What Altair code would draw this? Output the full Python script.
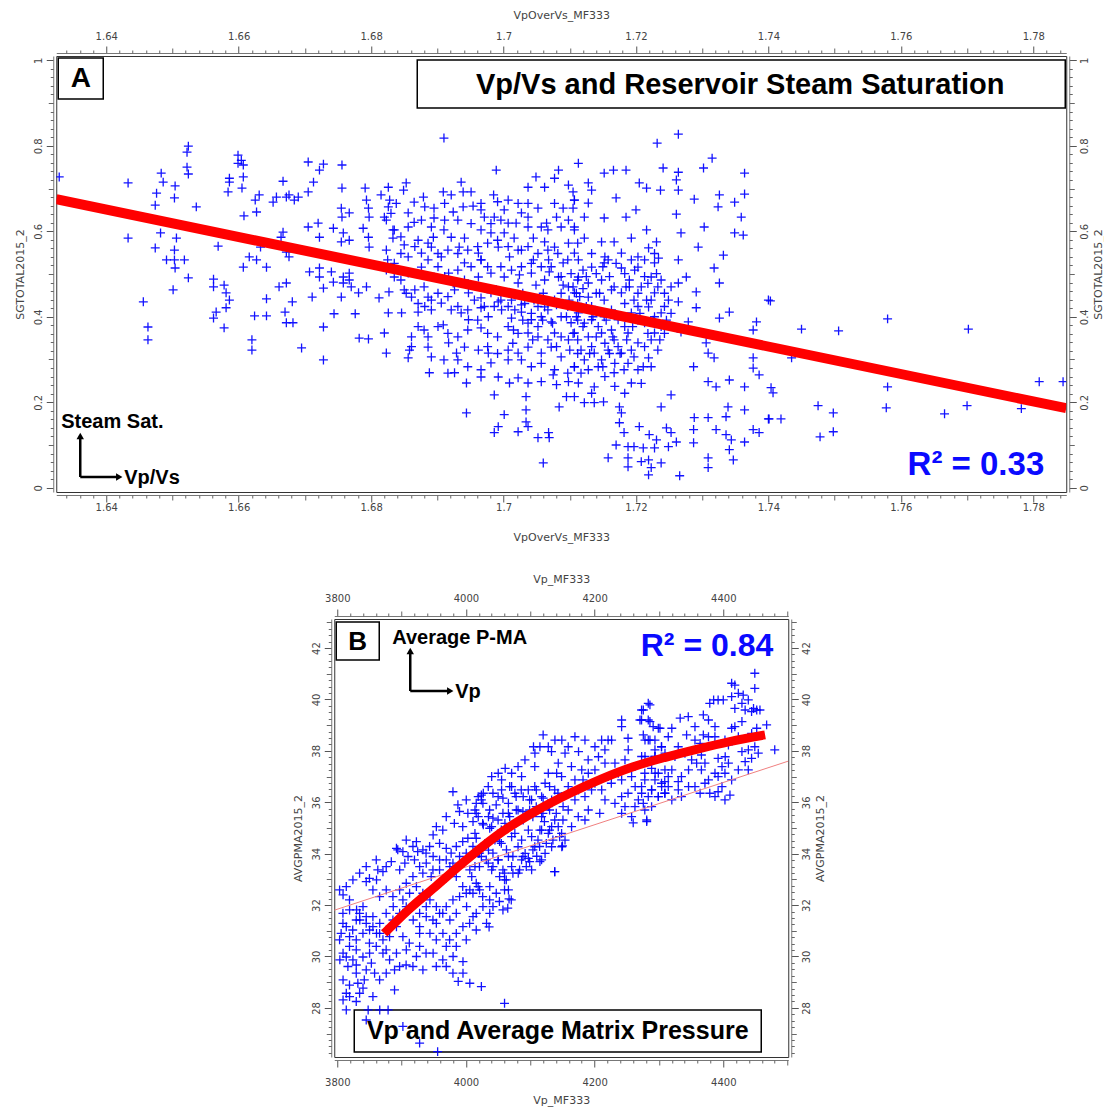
import altair as alt
import pandas as pd

# ---------------- Panel A : Vp/Vs vs steam saturation ----------------
A_LEFT = [
(1.6329,0.727),(1.6433,0.713),(1.6433,0.584),(1.6524,0.799),(1.6522,0.785),(1.6522,0.750),(1.6524,0.734),
(1.6483,0.736),(1.6486,0.715),(1.6504,0.706),(1.6476,0.689),(1.6503,0.678),(1.6474,0.661),(1.6536,0.657),
(1.6482,0.596),(1.6474,0.561),(1.6506,0.584),(1.6503,0.556),(1.6491,0.533),(1.6503,0.533),(1.6518,0.533),
(1.6504,0.514),(1.6524,0.491),(1.6501,0.463),(1.6456,0.435),(1.6463,0.376),(1.6463,0.346),(1.6599,0.778),
(1.6604,0.766),(1.6599,0.759),(1.6607,0.755),(1.6586,0.724),(1.6586,0.715),(1.6607,0.727),(1.6584,0.692),
(1.6605,0.701),(1.6608,0.636),(1.6627,0.645),(1.6625,0.673),(1.6631,0.685),(1.6652,0.668),(1.6657,0.680),
(1.6667,0.717),(1.6672,0.680),(1.6676,0.685),(1.6684,0.673),(1.6690,0.680),(1.6705,0.692),(1.6713,0.715),
(1.6705,0.762),(1.6722,0.743),(1.6728,0.757),(1.6756,0.755),(1.6756,0.701),(1.6791,0.701),(1.6755,0.654),
(1.6756,0.633),(1.6767,0.643),(1.6793,0.673),(1.6796,0.654),(1.6797,0.633),(1.6569,0.565),(1.6633,0.563),
(1.6667,0.598),(1.6664,0.586),(1.6672,0.551),(1.6676,0.540),(1.6705,0.610),(1.6720,0.619),(1.6722,0.586),
(1.6743,0.607),(1.6758,0.596),(1.6755,0.575),(1.6767,0.579),(1.6788,0.607),(1.6796,0.586),(1.6797,0.563),
(1.6616,0.540),(1.6627,0.533),(1.6607,0.516),(1.6642,0.516),(1.6707,0.505),(1.6722,0.514),(1.6722,0.493),
(1.6740,0.505),(1.6758,0.493),(1.6767,0.502),(1.6743,0.481),(1.6758,0.479),(1.6767,0.486),(1.6770,0.470),
(1.6781,0.456),(1.6793,0.470),(1.6562,0.488),(1.6562,0.470),(1.6578,0.474),(1.6581,0.456),(1.6586,0.439),
(1.6581,0.421),(1.6566,0.411),(1.6562,0.397),(1.6578,0.374),(1.6624,0.402),(1.6642,0.402),(1.6642,0.442),
(1.6661,0.470),(1.6672,0.479),(1.6681,0.435),(1.6670,0.411),(1.6672,0.386),(1.6682,0.386),(1.6711,0.446),
(1.6728,0.467),(1.6728,0.376),(1.6744,0.407),(1.6776,0.407),(1.6755,0.446),(1.6620,0.346),(1.6620,0.322),
(1.6695,0.327),(1.6728,0.299),(1.6782,0.350),(1.6796,0.348),(1.6812,0.444),
]
A_MID = [
(1.6910,0.818),(1.6989,0.743),(1.7113,0.759),(1.7083,0.743),(1.7049,0.727),(1.7037,0.703),(1.7062,0.703),
(1.7077,0.724),(1.7098,0.708),(1.7105,0.692),(1.6826,0.703),(1.6853,0.713),(1.6849,0.696),(1.6936,0.715),
(1.6909,0.692),(1.6921,0.685),(1.6939,0.692),(1.6951,0.692),(1.6985,0.685),(1.7007,0.673),(1.6879,0.680),
(1.6865,0.668),(1.6815,0.685),(1.6826,0.657),(1.6820,0.633),(1.6856,0.643),(1.6865,0.621),(1.6895,0.654),
(1.6895,0.631),(1.6924,0.645),(1.6939,0.657),(1.6954,0.659),(1.6966,0.650),(1.6971,0.633),(1.6986,0.633),
(1.7001,0.650),(1.7007,0.619),(1.7019,0.619),(1.7027,0.643),(1.7037,0.633),(1.7052,0.654),(1.7065,0.619),
(1.7080,0.633),(1.7090,0.654),(1.7105,0.654),(1.7057,0.610),(1.7098,0.626),(1.6833,0.603),(1.6833,0.584),
(1.6910,0.603),(1.6894,0.586),(1.6921,0.586),(1.6941,0.584),(1.6933,0.563),(1.6966,0.603),(1.6981,0.596),
(1.7001,0.596),(1.7016,0.584),(1.7045,0.584),(1.7062,0.575),(1.7077,0.563),(1.7098,0.572),(1.6850,0.568),
(1.6891,0.563),(1.6823,0.556),(1.6856,0.540),(1.6876,0.549),(1.6906,0.540),(1.6962,0.549),(1.6966,0.533),
(1.6992,0.563),(1.7009,0.540),(1.7027,0.556),(1.7045,0.533),(1.7068,0.533),(1.7090,0.526),(1.7107,0.549),
(1.6941,0.526),(1.6823,0.509),(1.6835,0.493),(1.6856,0.502),(1.6876,0.516),(1.6895,0.493),(1.6917,0.502),
(1.6924,0.479),(1.6941,0.486),(1.6962,0.493),(1.6981,0.502),(1.7001,0.493),(1.7022,0.479),(1.7042,0.502),
(1.7062,0.486),(1.7083,0.493),(1.7098,0.470),(1.6827,0.458),(1.6850,0.463),(1.6861,0.446),(1.6880,0.470),
(1.6886,0.446),(1.6906,0.432),(1.6926,0.463),(1.6947,0.456),(1.6966,0.444),(1.6981,0.456),(1.6992,0.435),
(1.7012,0.439),(1.7027,0.428),(1.7046,0.439),(1.7062,0.423),(1.7080,0.428),(1.7099,0.439),(1.6826,0.409),
(1.6820,0.362),(1.6846,0.409),(1.6871,0.411),(1.6891,0.416),(1.6909,0.381),(1.6921,0.416),(1.6936,0.409),
(1.6947,0.393),(1.6966,0.421),(1.6977,0.400),(1.6966,0.374),(1.6997,0.416),(1.7012,0.397),(1.7027,0.411),
(1.7042,0.393),(1.7057,0.400),(1.7072,0.388),(1.7087,0.400),(1.7102,0.386),(1.7015,0.369),(1.7037,0.362),
(1.7052,0.353),(1.7077,0.362),(1.7098,0.346),(1.6861,0.353),(1.6880,0.369),(1.6858,0.322),(1.6856,0.304),
(1.6886,0.329),(1.6891,0.306),(1.6917,0.339),(1.6929,0.315),(1.6910,0.299),(1.6941,0.329),(1.6962,0.322),
(1.6977,0.315),(1.6981,0.292),(1.7007,0.322),(1.7022,0.315),(1.7037,0.329),(1.7057,0.315),(1.7072,0.329),
(1.7087,0.306),(1.7107,0.283),(1.6888,0.269),(1.6926,0.269),(1.6944,0.245),(1.6966,0.259),(1.6992,0.259),
(1.7009,0.245),(1.7022,0.257),(1.7037,0.245),(1.7057,0.248),(1.7075,0.264),(1.7080,0.241),(1.7098,0.248),
(1.7095,0.213),(1.6986,0.217),(1.7034,0.213),(1.7084,0.189),(1.6944,0.175),(1.7001,0.171),(1.7034,0.182),
(1.7034,0.154),(1.6992,0.143),(1.6986,0.129),(1.7022,0.131),(1.7037,0.143),(1.7052,0.117),(1.7068,0.129),
(1.7069,0.117),(1.7060,0.058),(1.6823,0.315),
]
A_MID2 = [
(1.6823,0.626),(1.6828,0.673),(1.6830,0.642),(1.6845,0.486),(1.6853,0.455),(1.6866,0.463),(1.6871,0.431),
(1.6881,0.424),(1.6891,0.439),(1.6901,0.455),(1.6916,0.447),(1.6931,0.424),(1.6946,0.416),(1.6956,0.439),
(1.6971,0.424),(1.6986,0.424),(1.6989,0.463),(1.6996,0.439),(1.7007,0.424),(1.7017,0.416),(1.7032,0.431),
(1.7042,0.408),(1.7052,0.424),(1.7067,0.416),(1.7077,0.439),(1.7087,0.455),(1.7097,0.424),(1.7112,0.392),
(1.7105,0.361),(1.7087,0.353),(1.7067,0.346),(1.7052,0.377),(1.7037,0.385),(1.7022,0.361),(1.7007,0.377),
(1.6991,0.353),(1.6976,0.361),(1.6961,0.392),(1.6946,0.369),(1.6931,0.353),(1.6916,0.361),(1.6901,0.377),
(1.6886,0.353),(1.6871,0.377),(1.6861,0.330),(1.6976,0.330),(1.6991,0.314),(1.7007,0.299),(1.7027,0.299),
(1.7042,0.283),(1.7057,0.291),(1.7077,0.276),(1.7097,0.268),(1.7112,0.314),(1.6931,0.299),(1.6946,0.283),
(1.6916,0.268),(1.6966,0.276),(1.6825,0.533),(1.6835,0.525),(1.6845,0.548),(1.6866,0.564),(1.6886,0.533),
(1.6901,0.517),(1.6911,0.494),(1.6931,0.509),(1.6951,0.517),(1.6966,0.533),(1.6976,0.517),(1.6996,0.517),
(1.7012,0.509),(1.7027,0.517),(1.7042,0.525),(1.7057,0.517),(1.7072,0.517),(1.7087,0.494),(1.7102,0.501),
(1.7112,0.486),(1.7097,0.533),(1.7082,0.548),(1.7067,0.556),(1.7052,0.548),(1.7037,0.564),(1.7022,0.556),
(1.7007,0.564),(1.6991,0.579),(1.6976,0.572),(1.6961,0.564),(1.6946,0.556),(1.6931,0.548),(1.6916,0.556),
(1.6901,0.548),(1.6886,0.572),(1.6871,0.579),(1.6845,0.587),(1.6835,0.603),(1.6856,0.610),(1.6876,0.626),
(1.6891,0.610),(1.6911,0.626),(1.6931,0.626),(1.6951,0.618),(1.6981,0.618),(1.6996,0.626),(1.7037,0.610),
(1.7067,0.603),(1.7087,0.610),(1.7107,0.603),(1.7112,0.572),(1.6838,0.665),(1.6881,0.657),(1.6911,0.665),
(1.6966,0.665),(1.6991,0.669),(1.7022,0.665),(1.7037,0.665),(1.7077,0.665),(1.7107,0.673),
]
A_RIGHT = [
(1.7264,0.827),(1.7232,0.806),(1.7315,0.771),(1.7152,0.736),(1.7166,0.743),(1.7185,0.743),
(1.7241,0.748),(1.7264,0.738),(1.7302,0.748),(1.7364,0.736),(1.7128,0.713),(1.7133,0.696),(1.7205,0.713),
(1.7216,0.701),(1.7237,0.696),(1.7264,0.696),(1.7261,0.720),(1.7170,0.678),(1.7128,0.666),(1.7288,0.675),
(1.7326,0.685),(1.7324,0.657),(1.7349,0.668),(1.7364,0.687),(1.7107,0.673),(1.7200,0.650),(1.7185,0.633),
(1.7152,0.631),(1.7122,0.633),(1.7261,0.640),(1.7359,0.633),(1.7303,0.610),(1.7268,0.596),(1.7349,0.596),
(1.7362,0.591),(1.7216,0.603),(1.7193,0.584),(1.7167,0.575),(1.7148,0.575),(1.7122,0.584),(1.7107,0.610),
(1.7231,0.575),(1.7219,0.561),(1.7294,0.563),(1.7332,0.544),(1.7234,0.537),(1.7264,0.533),(1.7318,0.514),
(1.7326,0.479),(1.7276,0.493),(1.7264,0.479),(1.7291,0.458),(1.7291,0.421),(1.7264,0.435),(1.7279,0.388),
(1.7268,0.364),(1.7326,0.397),(1.7341,0.411),(1.7382,0.388),(1.7377,0.369),(1.7400,0.439),(1.7306,0.339),
(1.7309,0.315),(1.7318,0.304),(1.7287,0.283),(1.7377,0.304),(1.7377,0.280),(1.7386,0.264),(1.7309,0.248),
(1.7321,0.236),(1.7341,0.252),(1.7364,0.236),(1.7253,0.217),(1.7238,0.189),(1.7175,0.189),(1.7178,0.175),
(1.7175,0.152),(1.7182,0.129),(1.7205,0.143),(1.7220,0.124),(1.7231,0.112),(1.7246,0.140),(1.7253,0.129),
(1.7261,0.107),(1.7288,0.164),(1.7287,0.136),(1.7287,0.105),(1.7309,0.164),(1.7321,0.136),(1.7336,0.166),
(1.7339,0.189),(1.7336,0.124),(1.7344,0.112),(1.7341,0.089),(1.7347,0.065),(1.7364,0.182),(1.7364,0.107),
(1.7377,0.136),(1.7386,0.129),(1.7400,0.161),(1.7158,0.070),(1.7188,0.070),(1.7188,0.049),(1.7208,0.061),
(1.7219,0.065),(1.7223,0.047),(1.7238,0.058),(1.7170,0.100),(1.7188,0.096),(1.7197,0.096),(1.7211,0.093),
(1.7228,0.093),(1.7249,0.096),(1.7266,0.028),(1.7309,0.070),(1.7309,0.047),(1.7219,0.030),
(1.7113,0.533),(1.7133,0.516),(1.7152,0.526),(1.7178,0.514),(1.7203,0.516),(1.7223,0.493),(1.7238,0.486),
(1.7113,0.493),(1.7128,0.479),(1.7148,0.486),(1.7167,0.470),(1.7190,0.486),(1.7208,0.470),(1.7228,0.456),
(1.7249,0.439),(1.7107,0.456),(1.7128,0.446),(1.7152,0.439),(1.7178,0.456),(1.7197,0.439),(1.7219,0.423),
(1.7238,0.409),(1.7113,0.409),(1.7133,0.393),(1.7152,0.400),(1.7173,0.393),(1.7193,0.409),(1.7213,0.386),
(1.7228,0.362),(1.7107,0.362),(1.7128,0.353),(1.7148,0.362),(1.7167,0.346),(1.7188,0.362),(1.7203,0.339),
(1.7223,0.346),(1.7117,0.322),(1.7137,0.315),(1.7158,0.322),(1.7178,0.315),(1.7197,0.306),(1.7219,0.304),
(1.7107,0.283),(1.7128,0.276),(1.7143,0.283),(1.7167,0.269),(1.7182,0.276),(1.7211,0.283),(1.7113,0.245),
(1.7137,0.236),(1.7193,0.245),(1.7122,0.199),(1.7137,0.199),(1.7151,0.201),(1.7107,0.213),(1.7178,0.549),
(1.7158,0.533),(1.7203,0.540),(1.7228,0.526),
]
A_RIGHT2 = [
(1.7120,0.509),(1.7140,0.501),(1.7160,0.494),(1.7183,0.501),(1.7198,0.509),(1.7218,0.478),(1.7233,0.470),
(1.7120,0.466),(1.7140,0.455),(1.7163,0.463),(1.7185,0.470),(1.7203,0.455),(1.7223,0.439),(1.7243,0.455),
(1.7112,0.431),(1.7133,0.424),(1.7163,0.416),(1.7183,0.431),(1.7203,0.424),(1.7228,0.400),(1.7243,0.424),
(1.7122,0.385),(1.7143,0.377),(1.7163,0.369),(1.7183,0.377),(1.7203,0.392),(1.7218,0.361),(1.7238,0.377),
(1.7112,0.346),(1.7133,0.330),(1.7153,0.338),(1.7173,0.330),(1.7193,0.322),(1.7213,0.330),(1.7233,0.322),
(1.7122,0.299),(1.7148,0.299),(1.7168,0.291),(1.7188,0.291),(1.7203,0.276),(1.7223,0.283),(1.7243,0.361),
(1.7253,0.408),(1.7253,0.470),(1.7193,0.533),(1.7213,0.533),(1.7133,0.548),(1.7153,0.540),(1.7228,0.548),
(1.7168,0.237),(1.7153,0.260),(1.7133,0.221),(1.7183,0.221),(1.7208,0.244),
]
A_DENSE = [
(1.7105,0.470),(1.7115,0.447),(1.7125,0.424),(1.7135,0.400),(1.7145,0.455),(1.7155,0.392),(1.7165,0.353),
(1.7176,0.314),(1.7186,0.346),(1.7195,0.377),(1.7206,0.408),(1.7216,0.439),(1.7226,0.392),(1.7236,0.346),
(1.7117,0.268),(1.7130,0.314),(1.7150,0.283),(1.7160,0.314),(1.7140,0.353),(1.7120,0.377),(1.7110,0.400),
(1.7125,0.494),(1.7150,0.517),(1.7170,0.525),(1.7190,0.470),(1.7213,0.494),(1.7231,0.501),(1.7246,0.392),
(1.7024,0.498),(1.7049,0.474),(1.7069,0.505),(1.7090,0.474),(1.7110,0.455),(1.7029,0.455),(1.7060,0.455),
(1.7095,0.400),(1.7074,0.385),(1.7059,0.392),(1.7029,0.392),(1.7044,0.346),(1.7080,0.330),(1.7100,0.322),
(1.7014,0.338),
]
A_FAR = [
(1.7403,0.437),(1.7450,0.371),(1.7506,0.367),(1.7580,0.395),(1.7702,0.371),(1.7435,0.304),(1.7404,0.234),
(1.7407,0.222),(1.7580,0.236),(1.7809,0.248),(1.7845,0.248),(1.7578,0.187),(1.7475,0.192),(1.7498,0.175),
(1.7666,0.173),(1.7700,0.192),(1.7782,0.185),(1.7401,0.161),(1.7419,0.161),(1.7478,0.119),(1.7498,0.131),
]
A_FIT_X = [1.63245, 1.78498]
A_FIT_Y = [0.675, 0.186]
A_XDOM = [1.63245, 1.78498]
A_YDOM = [-0.01, 1.01]
A_XMAJOR = [1.64, 1.66, 1.68, 1.70, 1.72, 1.74, 1.76, 1.78]
A_YMAJOR = [0, 0.2, 0.4, 0.6, 0.8, 1.0]

# ---------------- Panel B : Vp vs average matrix pressure ----------------
B_LOW = [
(3979.8,36.41),(3987.5,35.90),(3990,35.64),(4003,35.57),(4016,35.57),(4024,36.28),(4026.4,35.96),(4042,36.35),
(4047,35.90),(4057.5,36.16),(4068,36.61),(4078,36.22),(4086,36.48),(4099,36.09),(4109.4,36.48),(4120,36.16),
(4130,36.61),(4143,36.35),(4151,35.83),(4088.6,35.64),(4068,35.44),(4042,35.38),(4026,35.18),(4011,35.25),
(3995,35.05),(3982,35.18),(4037,34.99),(4104,35.44),(4122,35.25),(4115,34.92),(4130,34.92),(3954,35.05),
(3949,34.73),(3964,34.92),(3969.4,34.21),(3977,34.02),(3985,34.28),(3995,34.47),(4003,34.60),(4016,34.60),
(4026,34.28),(4042,34.02),(4052.3,34.47),(4063,34.15),(4073,33.89),(4088.6,33.89),(4099,33.69),(4115,33.69),
(4138,33.30),(4057.5,33.37),(4050,33.76),(4021,33.50),(4006,33.37),(3990,33.56),(3975,33.50),(3959,33.76),
(3949,33.89),(3938,34.02),(3923,34.47),(3925,34.08),(3920,33.76),(3910,33.89),(3905,33.63),(3894,34.15),
(3892,34.21),(3884,33.69),(3871,33.30),(3863,33.37),(3850,33.04),(3845,32.91),(3861,32.98),(3897,33.37),
(3933,33.24),(3946,33.11),(3969,33.04),(3985,33.11),(3995,32.72),(4006,32.59),(4016,32.85),(4026,32.33),
(4037,32.72),(4060,32.59),(4070.5,32.20),(4065,31.88),(3803.6,32.59),(3809,32.40),(3819,32.20),(3830,31.81),
(3840,31.94),(3835,31.42),(3814,31.16),(3806,30.90),(3824,31.03),(3845,31.29),(3855.4,31.55),(3866,31.29),
(3876,31.68),(3887,31.94),(3902,32.20),(3912.4,32.46),(3923,32.72),(3933,32.46),(3944,32.20),(3954,31.94),
(3964,31.68),(3975,31.42),(3985,31.68),(4001,31.94),(4011,31.55),(4032,31.29),(4042,31.94),(4052,32.14),
(4037,31.68),(3902,31.68),(3918,31.42),(3928,31.16),(3944,30.90),(3954,31.29),(3892,31.16),(3881.3,30.77),
(3871,30.65),(3861,30.90),(3850,30.52),(3902,30.77),(3912,30.52),(3928,30.39),(3938,30.13),(3923,30.00),
(3907.3,30.26),(3892,30.13),(3876,30.26),(3829.5,30.26),(3819,30.39),(3809,30.13),(3804,29.87),(3816.5,29.61),
(3829.5,29.67),(3853,29.74),(3858,29.35),(3889,29.48),(3907,29.67),(3949,30.13),(3964,29.87),(3980,30.00),
(3995.4,29.80),(3995.4,29.35),(3988,29.03),(4006,28.96),(4024,28.83),(3809,29.09),(3819,28.89),(3814,28.57),
(3832,28.96),(3842,29.09),(3840,28.77),(3829.5,28.25),(3809,28.31),(3889,28.70),(3866,27.92),(3879,27.92),
(3848,27.92),(4060,28.18),(3928,26.63),(3956,26.30),(3902,27.28),
(4067,32.24),(4036,31.15),(4260,35.2),(4110,33.9),(4150,34.3),
]
B_LOW2 = [
(3855.4,32.59),(3865.8,32.33),(3876.1,32.59),(3886.5,32.33),(3896.9,32.59),(3907.2,32.85),(3917.6,33.11),
(3928.0,33.50),(3938.3,33.63),(3948.7,33.37),(3959.0,33.37),(3969.4,33.76),(3979.8,33.63),(3990.1,33.89),
(4000.5,34.02),(4010.9,34.28),(4021.2,34.02),(4031.6,33.76),(4042.0,33.50),(4052.3,33.11),(4062.7,32.98),
(4073.0,33.24),(4083.4,33.37),(4093.8,33.50),(4104.1,34.15),(4114.5,34.28),(4124.9,34.40),(4135.2,34.53),
(4145.6,34.66),(4150.8,35.31),(4140.4,35.57),(4130.0,35.70),(4119.7,35.57),(4109.3,35.83),(4099.0,35.70),
(4078.2,35.70),(4057.5,35.57),(4036.8,35.70),(4016.0,35.96),(4000.5,36.09),(3969.4,35.44),(3959.0,34.40),
(3943.5,34.28),(3933.1,34.15),(3917.6,34.28),(3907.2,34.53),(3902.0,34.08),(3876.1,33.50),(3860.6,33.76),
(3845.0,33.50),(3834.7,33.24),(3824.3,32.98),(3814.0,32.72),(3819.1,31.81),(3808.8,31.68),(3808.8,31.29),
(3819.1,30.77),(3829.5,30.65),(3839.9,30.90),(3850.2,31.03),(3860.6,30.39),(3871.0,30.13),(3881.3,29.87),
(3896.9,29.61),(3917.6,29.61),(3933.1,29.48),(3953.9,29.61),(3969.4,29.61),(3979.8,29.35),(3953.9,30.65),
(3964.2,30.90),(3974.6,30.65),(3985.0,30.90),(3995.3,31.16),(4005.7,31.29),(4016.0,31.68),(4026.4,31.94),
(4036.8,32.20),(4047.1,32.46),(4057.5,31.81),(4016.0,31.03),(4000.5,30.65),(3985.0,30.39),(3969.4,30.39),
(3928.0,30.90),(3917.6,31.94),(3928.0,31.68),(3938.3,31.55),(3948.7,31.42),(3959.0,31.68),(3969.4,31.94),
(3979.8,32.20),(3990.1,32.33),(4000.5,32.46),(4010.9,32.46),(4021.2,32.59),(3928.0,32.20),(3938.3,31.94),
(3907.2,31.94),(3896.9,31.68),(3886.5,31.42),(3876.1,31.03),(3865.8,30.90),(3855.4,31.16),(3845.0,31.55),
(3834.7,31.68),(3829.5,31.42),(3803.6,30.65),(3814.0,29.98),(3824.3,29.87),(3839.9,29.98),(3850.2,30.13),
(3829.5,29.35),(3845.0,29.48),(3865.8,29.09),(3876.1,29.35),(3819.1,28.44),(3834.7,28.57),(3855.4,28.44),
(3814.0,27.92),(3845.0,27.53),
]
B_MID = [
(4283.4,39.85),(4273,39.59),(4286,39.14),(4270.5,39.20),(4242,39.20),(4242,38.94),(4252,38.49),(4275.7,38.62),
(4291,38.94),(4301.6,38.88),(4286,38.42),(4293.8,38.04),(4304,38.16),(4221,38.42),(4216,38.04),(4206,37.77),
(4200.5,38.16),(4190,37.65),(4175,37.97),(4159,38.16),(4154,37.91),(4149,38.42),(4164,37.39),(4180,37.26),
(4143.5,37.52),(4141,37.13),(4120,38.62),(4115,38.16),(4105,38.16),(4133,37.97),(4107,37.39),(4086.5,37.00),
(4081,37.39),(4061,37.32),(4055.4,36.87),(4071,36.61),(4040,37.00),(4027,36.35),(4014,35.70),(4024,36.09),
(4050,36.22),(4066,35.96),(4089,36.22),(4107,36.61),(4123,36.74),(4138,36.48),(4159,36.61),(4182,36.87),
(4175,36.48),(4200.5,36.74),(4211,36.48),(4226,36.74),(4242,36.87),(4263,36.61),(4278,36.87),(4294,37.13),
(4309,36.80),(4242,36.22),(4252,36.35),(4268,36.09),(4278,35.70),(4299,36.22),(4309,36.35),(4242,35.57),
(4257.5,35.44),(4281,35.31),(4208,35.57),(4185,35.31),(4159,35.70),(4138,35.31),(4128,35.83),(4117.6,35.44),
(4102,36.09),(4089,35.31),(4081,35.70),(4066,35.57),(4050,35.31),(4035,35.44),(4027,35.12),(4014,34.79),
(4055,34.92),(4076,34.79),(4097,34.92),(4112,34.53),(4128,34.79),(4143.5,35.05),(4154,34.53),(4149,34.27),
(4123,34.01),(4107,34.27),(4092,34.01),(4081,34.27),(4066,33.89),(4055,34.40),(4035,34.14),(4024,33.89),
(4014,33.50),(4040,33.37),(4060,33.24),(4060,32.98),(4086.5,33.76),(4097,33.82),(4138,33.30),(4019,32.72),
(4066,32.59),(4009,33.11),
]
B_MID2 = [
(4055.4,36.48),(4076.1,36.35),(4096.9,36.48),(4117.6,36.22),(4133.2,36.09),(4148.7,36.22),(4169.4,36.09),
(4185.0,36.22),(4195.3,36.48),(4216.1,36.09),(4231.6,35.96),(4247.2,35.83),(4262.7,35.83),(4273.1,36.35),
(4288.6,36.48),(4304.2,36.61),(4019.1,35.44),(4039.9,35.05),(4060.6,35.18),(4071.0,34.66),(4086.5,34.53),
(4102.1,34.66),(4117.6,34.92),(4133.2,35.05),(4148.7,34.79),(4164.2,35.05),(4174.6,35.44),(4190.2,35.70),
(4045.1,34.53),(4029.5,34.40),(4019.1,34.01),(4034.7,33.63),(4050.2,33.76),(4071.0,33.50),(4081.3,33.24),
(4102.1,33.37),(4117.6,33.76),(4133.2,34.27),(4159.1,36.35),(4128.0,37.13),(4148.7,37.00),(4169.4,36.87),
(4190.2,37.13),(4221.2,37.00),(4236.8,37.13),(4257.5,37.00),(4262.7,37.39),(4247.2,37.65),(4231.6,37.52),
(4216.1,37.52),(4200.5,37.26),(4226.4,38.42),(4210.9,38.42),(4185.0,38.42),(4169.4,38.55),(4138.3,38.42),
(4128.0,38.16),(4107.2,37.91),(4091.7,37.65),(4071.0,37.13),(4050.2,37.13),(4034.7,36.61),(4019.1,36.22),
(4293.8,37.78),(4309.3,37.26),(4273.1,37.78),(4252.3,38.04),
]
B_HIGH = [
(4449,41.02),(4449,40.43),(4418,40.56),(4413,40.63),(4431,40.17),(4429,39.85),(4447,39.65),(4452,39.59),
(4457,39.59),(4444,39.53),(4434,39.59),(4418,39.65),(4392,39.98),(4385,39.98),(4400,39.98),(4379,39.85),
(4369,39.40),(4377,39.20),(4429,39.14),(4418,38.94),(4413,38.88),(4452,38.88),(4467.4,39.01),(4369,38.62),
(4377,38.55),(4387,38.55),(4364,38.29),(4343,38.62),(4333,39.27),(4320,38.88),(4314.5,38.55),(4299,38.88),
(4286,39.79),(4275.7,39.59),(4273,39.20),(4283.4,39.20),(4480,38.04),(4449,38.16),(4439,38.04),(4429,37.97),
(4444,37.71),(4434,37.58),(4403,37.77),(4392,37.71),(4408,37.52),(4398,37.39),(4366,37.84),(4358.6,37.52),
(4366,37.26),(4346,37.26),(4335,37.00),(4320,37.26),(4314.5,37.00),(4299,37.13),(4288.6,37.32),(4278,37.13),
(4392,37.00),(4377,36.87),(4413,36.87),(4398,36.61),(4364,36.35),(4379,36.35),(4392,36.41),(4410.4,36.28),
(4346,36.61),(4330,36.80),(4314.5,36.61),(4304,36.74),(4288.6,36.48),(4273,36.61),(4335,36.22),(4320,36.09),
(4299,36.22),(4283.4,36.22),(4288.6,35.83),(4275.7,35.96),(4281,35.25),(4408,38.23),(4356,38.42),(4330,38.16),
(4283.4,38.42),(4304,38.16),
]
B_HIGH2 = [
(4293.8,37.78),(4309.4,37.91),(4324.9,37.78),(4340.4,37.91),(4350.8,37.65),(4371.5,37.52),(4387.1,37.13),
(4402.6,37.13),(4423.4,37.26),(4438.9,37.26),(4454.4,37.91),(4371.5,36.74),(4356.0,36.61),(4387.1,36.22),
(4402.6,36.09),(4330.1,36.48),(4309.4,36.35),(4293.8,36.87),(4278.3,37.78),(4278.3,38.42),(4293.8,38.42),
(4387.1,38.94),(4356.0,38.94),(4345.6,39.33),(4402.6,38.42),(4423.4,38.55),(4444.1,38.68),(4438.9,39.98),
(4423.4,40.24),(4413.0,40.11),
]
B_CURVE_X = [3873, 3910, 3954, 4005, 4058, 4108, 4160, 4210, 4260, 4310, 4360, 4410, 4465]
B_CURVE_Y = [30.90, 31.80, 32.75, 33.85, 34.88, 35.65, 36.33, 36.90, 37.38, 37.75, 38.07, 38.36, 38.62]
B_LIN_X = [3795.3, 4501]
B_LIN_Y = [31.8, 37.6]
B_XDOM = [3795.3, 4501]
B_YDOM = [26.09, 43.13]
B_XMAJOR = [3800, 4000, 4200, 4400]
B_YMAJOR = [28, 30, 32, 34, 36, 38, 40, 42]

# ---------------- tick helper lists ----------------
A_XMED = [round(1.65 + 0.02 * i, 3) for i in range(7)]
A_XMIN = [round(k * 0.002, 4) for k in range(817, 893) if k % 5 != 0]
A_YMED = [0.1, 0.3, 0.5, 0.7, 0.9]
A_YMIN = [round(k * 0.02, 3) for k in range(0, 51) if k % 5 != 0]
B_XMED = [3900, 4100, 4300, 4500]
B_XMIN = [v for v in range(3800, 4501, 20) if v % 100 != 0]
B_YMED = [27, 29, 31, 33, 35, 37, 39, 41, 43]
B_YMIN = [k * 0.25 for k in range(105, 173) if k % 4 != 0]

AXIS_FONT = "DejaVu Sans"
GREY = "#444444"
PLUS = "M-1,0L1,0M0,-1L0,1"
one = pd.DataFrame({"k": [0]})


def major_axis(orient, values, fmt, title, lp, tp):
    kw = dict(orient=orient, values=values, format=fmt, title=title, tickSize=7, tickColor="#555555",
              domainColor="#777777", labelColor=GREY, labelFont=AXIS_FONT, labelFontSize=10,
              titleColor=GREY, titleFont=AXIS_FONT, titleFontSize=11, titleFontWeight="normal",
              grid=False, offset=3, labelPadding=lp, titlePadding=tp, labelFlush=False, labelOverlap=False)
    if orient in ("left", "right"):
        kw.update(labelAngle=-90, titleAngle=270)
    return alt.Axis(**kw)


def tick_axis(orient, values, size):
    return alt.Axis(orient=orient, values=values, tickSize=size, tickColor="#666666", labels=False,
                    domain=False, grid=False, offset=3, title=None)


def text_layer(txt, x, y, size, color="black", align="center"):
    return alt.Chart(one).mark_text(text=txt, fontSize=size, font="Liberation Sans", fontWeight="bold",
                                    color=color, align=align, baseline="middle").encode(
        x=alt.value(x), y=alt.value(y))


def box_layer(x1, x2, y1, y2):
    return alt.Chart(one).mark_rect(fill="white", stroke="black", strokeWidth=1.5).encode(
        x=alt.value(x1), x2=alt.value(x2), y=alt.value(y1), y2=alt.value(y2))


def rule_layer(x1, y1, x2, y2):
    return alt.Chart(one).mark_rule(color="black", strokeWidth=2.5).encode(
        x=alt.value(x1), y=alt.value(y1), x2=alt.value(x2), y2=alt.value(y2))


def head_layer(x, y, shape):
    return alt.Chart(one).mark_point(shape=shape, filled=True, color="black", size=55, opacity=1).encode(
        x=alt.value(x), y=alt.value(y))


def panel(pts, fit_x, fit_y, fit_width, xdom, ydom, xmaj, ymaj, xmed, ymed, xmin, ymin,
          xfmt, yfmt, xtitle, ytitle, w, h, pads, extra_line=None, back=(), front=()):
    (top_lp, top_tp, bot_lp, bot_tp, side_lp, left_tp, right_tp) = pads
    df = pd.DataFrame(pts, columns=["x", "y"])
    fit = pd.DataFrame({"x": fit_x, "y": fit_y})
    xs = alt.Scale(domain=xdom, nice=False, zero=False)
    ys = alt.Scale(domain=ydom, nice=False, zero=False)

    def inv(xax, yax):
        return alt.Chart(df).mark_point(opacity=0).encode(
            x=alt.X("x:Q", scale=xs, axis=xax), y=alt.Y("y:Q", scale=ys, axis=yax))

    points = alt.Chart(df).mark_point(shape=PLUS, size=80, strokeWidth=1.3, color="#0000ff",
                                      opacity=0.92, filled=False, clip=True).encode(
        x=alt.X("x:Q", scale=xs, axis=major_axis("bottom", xmaj, xfmt, xtitle, bot_lp, bot_tp)),
        y=alt.Y("y:Q", scale=ys, axis=major_axis("left", ymaj, yfmt, ytitle, side_lp, left_tp)))
    fitline = alt.Chart(fit).mark_line(color="#ff0000", strokeWidth=fit_width, strokeCap="butt",
                                       interpolate="monotone", clip=True).encode(
        x=alt.X("x:Q", scale=xs, axis=major_axis("top", xmaj, xfmt, xtitle, top_lp, top_tp)),
        y=alt.Y("y:Q", scale=ys, axis=major_axis("right", ymaj, yfmt, ytitle, side_lp, right_tp)))
    layers = list(back) + [points]
    if extra_line is not None:
        lin = pd.DataFrame({"x": extra_line[0], "y": extra_line[1]})
        layers.append(alt.Chart(lin).mark_line(color="#f08080", strokeWidth=1, clip=True).encode(
            x=alt.X("x:Q", scale=xs, axis=None), y=alt.Y("y:Q", scale=ys, axis=None)))
    layers += [
        fitline,
        inv(tick_axis("bottom", xmin, 3), tick_axis("left", ymin, 3)),
        inv(tick_axis("top", xmin, 3), tick_axis("right", ymin, 3)),
        inv(tick_axis("bottom", xmed, 5), tick_axis("left", ymed, 5)),
        inv(tick_axis("top", xmed, 5), tick_axis("right", ymed, 5)),
    ] + list(front)
    return alt.layer(*layers).resolve_axis(x="independent", y="independent").properties(width=w, height=h)


chart_a = panel(
    A_LEFT + A_MID + A_MID2 + A_RIGHT + A_RIGHT2 + A_DENSE + A_FAR, A_FIT_X, A_FIT_Y, 10, A_XDOM, A_YDOM,
    A_XMAJOR, A_YMAJOR, A_XMED, A_YMED, A_XMIN, A_YMIN, ".2~f", ".1~f", "VpOverVs_MF333",
    "SGTOTAL2015_2", 1010, 436, (5, 11, 0, 19, 3, 8, 14),
    back=[box_layer(2, 47, 2, 43), text_layer("A", 24.5, 23, 28),
          box_layer(361, 1009, 4, 52), text_layer("Vp/Vs and Reservoir Steam Saturation", 684, 29, 29)],
    front=[text_layer("Steam Sat.", 5, 366, 20, align="left"),
           rule_layer(24, 421, 24, 381), head_layer(24, 380, "triangle-up"),
           rule_layer(24, 421, 62, 421), head_layer(63, 421, "triangle-right"),
           text_layer("Vp/Vs", 68, 422, 20, align="left"),
           text_layer("R² = 0.33", 988, 409, 33, color="#0a0aff", align="right")],
)

chart_b = panel(
    B_LOW + B_LOW2 + B_MID + B_MID2 + B_HIGH + B_HIGH2, B_CURVE_X, B_CURVE_Y, 9, B_XDOM, B_YDOM,
    B_XMAJOR, B_YMAJOR, B_XMED, B_YMED, B_XMIN, B_YMIN, "d", "d", "Vp_MF333", "AVGPMA2015_2",
    454, 438, (6, 9, 10, 7, 3, 8, 14),
    extra_line=(B_LIN_X, B_LIN_Y),
    back=[box_layer(2, 45, 3, 41), text_layer("B", 23.5, 23, 26),
          box_layer(20, 427, 391, 433), text_layer("Vp and Average Matrix Pressure", 223.5, 412, 25),
          text_layer("Average P-MA", 58, 19, 20, align="left"),
          rule_layer(76, 72, 76, 33), head_layer(76, 32, "triangle-up"),
          rule_layer(76, 72, 115, 72), head_layer(116, 72, "triangle-right"),
          text_layer("Vp", 121, 73, 20, align="left"),
          text_layer("R² = 0.84", 439, 27, 32, color="#0a0aff", align="right")],
)

chart = alt.vconcat(chart_a, chart_b, center=True, spacing=29).properties(
    padding={"left": 5, "top": 0, "right": 0, "bottom": 5}
).configure_view(stroke="#333333", strokeWidth=1)

chart.save("out.html", embed_options={"renderer": "svg", "actions": False})
